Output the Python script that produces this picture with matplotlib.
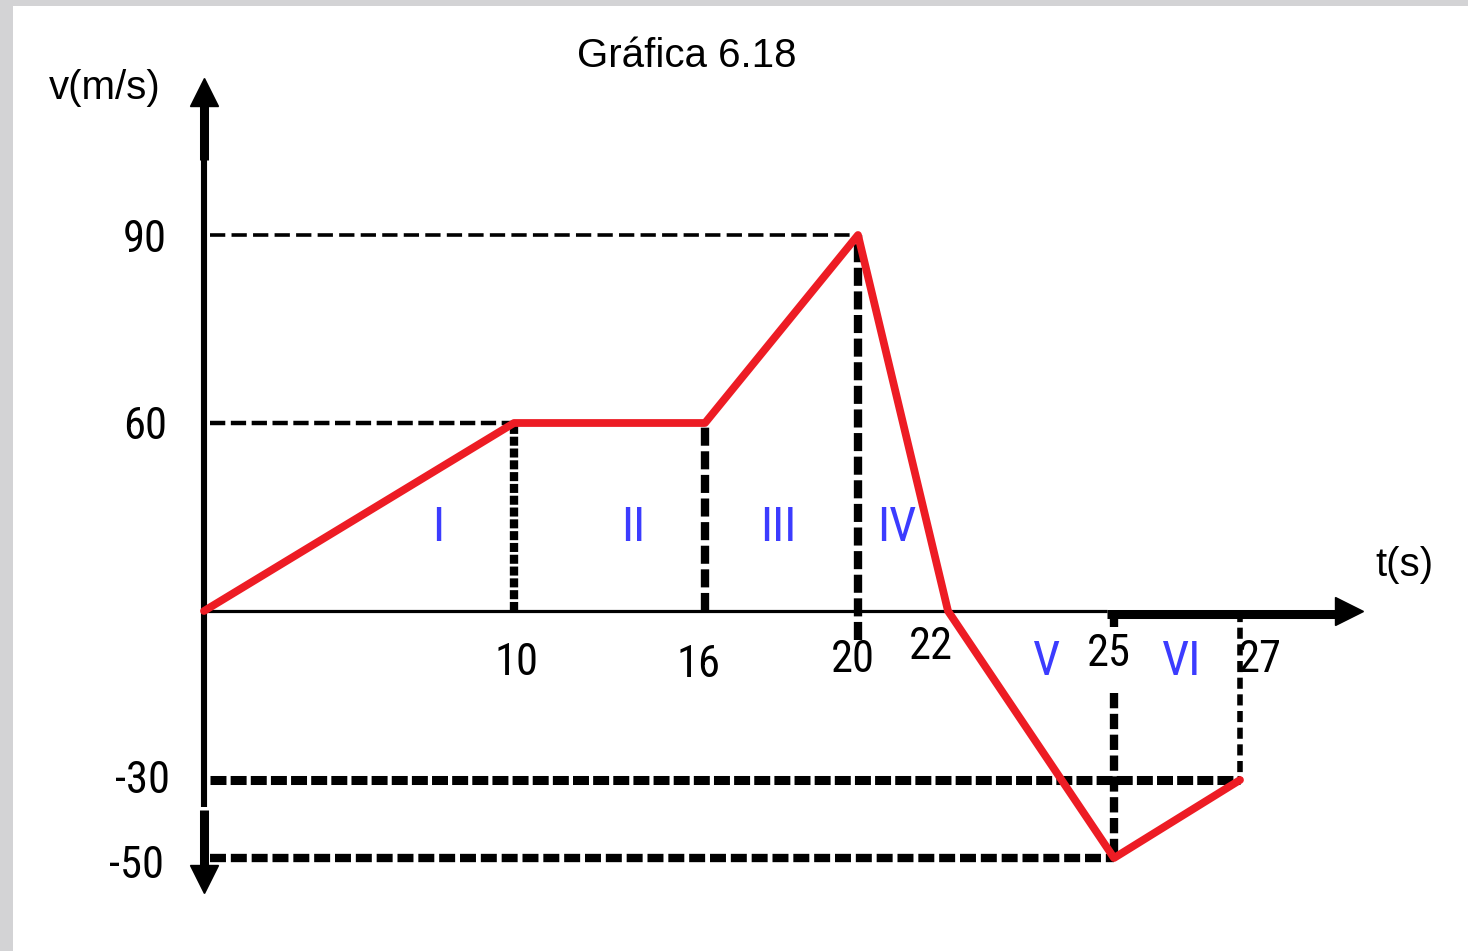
import numpy as np
import matplotlib
matplotlib.use("Agg")
import matplotlib.pyplot as plt

plt.rcParams["font.family"] = ["Liberation Sans", "DejaVu Sans"]
plt.rcParams["lines.scale_dashes"] = False
NARROW = ["Roboto Condensed", "Liberation Sans", "DejaVu Sans"]

# ---------------- data ----------------
t_points = [0, 10, 16, 20, 22, 25, 27]          # time (s)
v_points = [0, 60, 60, 90, 0, -50, -30]         # velocity (m/s)
x_tick_values = [10, 16, 20, 22, 25, 27]
y_tick_values = [90, 60, -30, -50]
segment_labels = ["I", "II", "III", "IV", "V", "VI"]
guide_v = [90, 60, -30, -50]                    # horizontal reference levels
guide_v_tend = [20, 10, 27, 25]                 # where each level meets the curve
guide_t = [10, 16, 20, 25, 27]                  # vertical reference times
guide_t_v = [60, 60, 90, -50, -30]              # curve value at those times

title = "Gráfica 6.18"
ylabel = "v(m/s)"
xlabel = "t(s)"

# ---------------- layout ----------------
W, H = 1468, 951
LEFT_PX, TOP_PX = 13, 6
fig = plt.figure(figsize=(W / 100, H / 100), dpi=100, facecolor="#d3d3d5")
ax = fig.add_axes([LEFT_PX / W, 0, 1 - LEFT_PX / W, 1 - TOP_PX / H])
ax.set_facecolor("white")
for s in ax.spines.values():
    s.set_visible(False)

# hand-drawn, non-uniform axis spacing -> piecewise-linear function scales
XK_T = [-10, 0, 10, 16, 20, 22, 25, 27, 40]
XK_P = [204 - 310, 204, 514, 705, 858, 948, 1114, 1240, 1240 + 13 * 63.5]
YK_V = [-150, -50, -30, 0, 60, 90, 200]
YK_P = [H - (858 + 100 * 3.9), H - 858, H - 780, H - 611, H - 423, H - 235,
        H - (235 - 110 * 6.27)]
fx = lambda t: np.interp(t, XK_T, XK_P)
ix = lambda p: np.interp(p, XK_P, XK_T)
fy = lambda v: np.interp(v, YK_V, YK_P)
iy = lambda p: np.interp(p, YK_P, YK_V)
ax.set_xscale("function", functions=(fx, ix))
ax.set_yscale("function", functions=(fy, iy))
ax.set_xlim(ix(LEFT_PX), ix(W))
ax.set_ylim(iy(0), iy(H - TOP_PX))
ax.set_xticks([])
ax.set_yticks([])

K = "black"
# ---- axes with arrows ----
ax.plot([0, 0], [101.9, -37.0], color=K, lw=4.4, solid_capstyle="butt", zorder=3)
ax.plot([0, 0], [110.6, 101.9], color=K, lw=6.5, solid_capstyle="butt", zorder=3)
ax.plot([0, 0], [-37.7, -52.3], color=K, lw=6.5, solid_capstyle="butt", zorder=3)
ax.plot([0], [112.8], marker="^", ms=19.5, color=K, zorder=3)
ax.plot([0], [-55.5], marker="v", ms=19.5, color=K, zorder=3)
ax.plot([0, 24.87], [0, 0], color=K, lw=2.3, solid_capstyle="butt", zorder=3)
ax.plot([24.87, 28.53], [-0.62, -0.62], color=K, lw=6.5, solid_capstyle="butt", zorder=3)
ax.plot([28.72], [0], marker=">", ms=20.5, color=K, zorder=3)

# ---- horizontal guides ----
h_styles = [dict(lw=2.6, dashes=(11, 4.5)),
            dict(lw=3.2, dashes=(11, 4)),
            dict(lw=6.5, dashes=(11.5, 3)),
            dict(lw=6.0, dashes=(11.5, 3.5))]
for v, te, st in zip(guide_v, guide_v_tend, h_styles):
    ax.plot([0.2, te], [v, v], color=K, zorder=2, **st)

# ---- vertical guides ----
v_bottom = [0, 0, -5.1, -14.5, 0]
v_styles = [dict(lw=6.0, dashes=(6.5, 2)),
            dict(lw=6.0, dashes=(13, 4)),
            dict(lw=6.0, dashes=(13, 4)),
            dict(lw=6.0, dashes=(11, 4)),
            dict(lw=4.0, dashes=(8, 4))]
for t, vt, vb, st in zip(guide_t, guide_t_v, v_bottom, v_styles):
    ax.plot([t, t], [vb, vt], color=K, zorder=2, **st)
ax.plot([25, 25], [0, -2.8], color=K, lw=6.0, solid_capstyle="butt", zorder=2)

# ---- velocity curve ----
ax.plot(t_points, v_points, color="#ed1c24", lw=5.6, solid_joinstyle="round",
        solid_capstyle="round", zorder=5)

# ---- tick labels ----
x_offsets = [(3, -64), (-6, -66), (-5, -61), (-17, -48), (-5, -55), (20, -61)]
for t, (dx, dy) in zip(x_tick_values, x_offsets):
    ax.annotate(str(t), xy=(t, 0), xytext=(dx, dy), textcoords="offset pixels",
                ha="center", va="baseline", fontsize=32, color=K, zorder=6,
                family=NARROW)
y_offsets = [(-59, -17), (-59, -16), (-62, -13), (-68, -20)]
for v, (dx, dy) in zip(y_tick_values, y_offsets):
    ax.annotate(str(v), xy=(0, v), xytext=(dx, dy), textcoords="offset pixels",
                ha="center", va="baseline", fontsize=32, color=K, zorder=6,
                family=NARROW)

# ---- region labels ----
label_px = [(438, 541), (633, 541), (778, 541), (897, 541), (1047, 675), (1182, 675)]
for lab, (px, py) in zip(segment_labels, label_px):
    fig.text(px / W, 1 - py / H, lab, ha="center", va="baseline",
             fontsize=35, color="#3c3cff", zorder=6, family=NARROW)

# ---- titles ----
fig.text(687 / W, 1 - 67 / H, title, ha="center", va="baseline", fontsize=29, color=K)
fig.text(105 / W, 1 - 99 / H, ylabel, ha="center", va="baseline", fontsize=29, color=K)
fig.text(1404 / W, 1 - 576 / H, xlabel, ha="center", va="baseline", fontsize=29, color=K)

fig.savefig("out.png", dpi=100, facecolor=fig.get_facecolor())
